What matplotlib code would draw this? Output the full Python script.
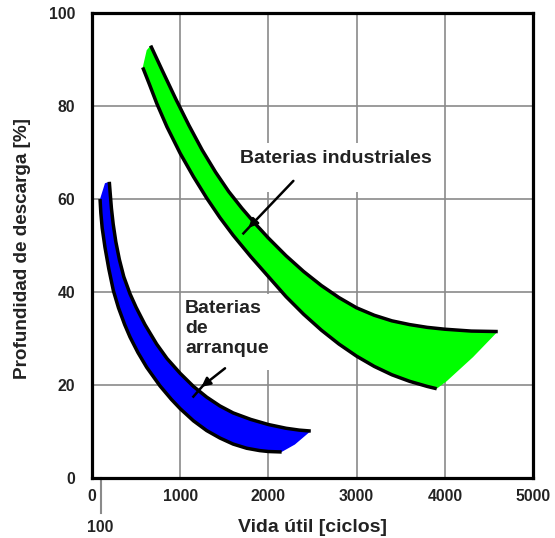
import matplotlib
matplotlib.use("Agg")
import matplotlib.pyplot as plt
from matplotlib.patches import Rectangle

plt.rcParams['font.family'] = ['Liberation Sans', 'DejaVu Sans']

# ---- data ----
ind_upper_x = [665, 800, 950, 1100, 1250, 1400, 1550, 1700, 1850, 2000, 2200, 2400, 2600, 2800,
               3000, 3200, 3400, 3600, 3800, 4000, 4300, 4600]
ind_upper_y = [93.0, 87.5, 81.5, 75.8, 70.5, 65.8, 61.6, 58.0, 54.7, 51.6, 47.8, 44.4, 41.4, 38.8,
               36.6, 35.0, 33.8, 33.0, 32.4, 32.0, 31.6, 31.5]
ind_lower_x = [575, 650, 733, 850, 1000, 1150, 1300, 1450, 1600, 1800, 2000, 2200, 2400, 2600,
               2800, 3000, 3200, 3400, 3600, 3800, 3908]
ind_lower_y = [88.3, 84.7, 80.6, 75.5, 69.8, 64.8, 60.2, 56.0, 52.2, 47.6, 43.3, 39.0, 35.2, 31.8,
               28.8, 26.2, 24.0, 22.2, 20.8, 19.7, 19.2]
ind_edge_x = [4020, 4320]
ind_edge_y = [20.8, 26.0]
ind_cap_x = [620]
ind_cap_y = [92.0]

arr_upper_x = [196, 205, 220, 240, 270, 310, 360, 431, 500, 600, 733, 850, 1000, 1150, 1300,
               1450, 1600, 1800, 2000, 2200, 2350, 2480]
arr_upper_y = [63.7, 61.5, 58.0, 54.6, 50.8, 47.0, 43.3, 39.6, 36.7, 33.0, 28.8, 25.7, 22.5, 19.7,
               17.4, 15.5, 14.0, 12.6, 11.5, 10.7, 10.3, 10.1]
arr_lower_x = [91, 100, 115, 147, 190, 242, 300, 370, 431, 520, 620, 771, 900, 1000, 1150, 1300,
               1450, 1600, 1754, 1900, 2000, 2150]
arr_lower_y = [60.0, 57.0, 53.8, 49.6, 45.0, 40.3, 36.6, 33.0, 30.3, 27.0, 23.8, 19.8, 16.9, 14.9,
               12.3, 10.2, 8.6, 7.3, 6.4, 5.9, 5.7, 5.6]
arr_edge_x = [2300]
arr_edge_y = [7.2]
arr_cap_x = [147]
arr_cap_y = [63.4]

x_ticks = [0, 1000, 2000, 3000, 4000, 5000]
x_ticklabels = ['0', '1000', '2000', '3000', '4000', '5000']
y_ticks = [0, 20, 40, 60, 80, 100]
y_ticklabels = ['0', '20', '40', '60', '80', '100']

label_ind = 'Baterias industriales'
label_arr = 'Baterias\nde\narranque'
x_label = 'Vida útil [ciclos]'
y_label = 'Profundidad de descarga [%]'
extra_tick = 100

# ---- figure ----
fig = plt.figure(figsize=(5.55, 5.38), dpi=100)
ax = fig.add_axes([0.1658, 0.1115, 0.7946, 0.8643])
ax.set_xlim(0, 5000)
ax.set_ylim(0, 100)

grid_col = '#8a8a8a'
for xv in x_ticks[1:-1]:
    ax.axvline(xv, color=grid_col, lw=1.2, zorder=1)
for yv in y_ticks[1:-1]:
    ax.axhline(yv, color=grid_col, lw=1.2, zorder=1)

# white label boxes that interrupt the grid
ax.add_patch(Rectangle((1620, 61.5), 2280, 10.6, facecolor='white', edgecolor='none', zorder=2))
ax.add_patch(Rectangle((1030, 23.3), 1120, 16.3, facecolor='white', edgecolor='none', zorder=2))

# industrial band
poly_x = ind_cap_x + ind_upper_x + ind_edge_x[::-1] + ind_lower_x[::-1]
poly_y = ind_cap_y + ind_upper_y + ind_edge_y[::-1] + ind_lower_y[::-1]
ax.fill(poly_x, poly_y, color='#00ff00', lw=0, zorder=3)
ax.plot(ind_upper_x, ind_upper_y, color='black', lw=2.5, solid_capstyle='butt',
        solid_joinstyle='round', zorder=4)
ax.plot(ind_lower_x, ind_lower_y, color='black', lw=2.5, solid_capstyle='butt',
        solid_joinstyle='round', zorder=4)

# starter band
poly_x = arr_cap_x + arr_upper_x + arr_edge_x + arr_lower_x[::-1]
poly_y = arr_cap_y + arr_upper_y + arr_edge_y + arr_lower_y[::-1]
ax.fill(poly_x, poly_y, color='#0000ff', lw=0, zorder=3)
ax.plot(arr_upper_x, arr_upper_y, color='black', lw=2.5, solid_capstyle='butt',
        solid_joinstyle='round', zorder=4)
ax.plot(arr_lower_x, arr_lower_y, color='black', lw=2.5, solid_capstyle='butt',
        solid_joinstyle='round', zorder=4)

# labels and arrows
ax.text(1678, 68.7, label_ind, fontsize=14, fontweight='bold', color='#222222',
        ha='left', va='center', zorder=5)
ax.text(1054, 38.2, label_arr, fontsize=14, fontweight='bold', color='#222222',
        ha='left', va='top', linespacing=1.22, zorder=5)

ax.annotate('', xy=(1775, 53.8), xytext=(2283, 63.9),
            arrowprops=dict(arrowstyle='-|>', color='black', lw=1.8, mutation_scale=13,
                            shrinkA=0, shrinkB=0), zorder=6)
ax.plot([1790, 1716], [54.1, 52.6], color='black', lw=1.8, zorder=6)
ax.annotate('', xy=(1240, 19.6), xytext=(1508, 23.6),
            arrowprops=dict(arrowstyle='-|>', color='black', lw=1.8, mutation_scale=13,
                            shrinkA=0, shrinkB=0), zorder=6)
ax.plot([1255, 1149], [19.8, 17.5], color='black', lw=1.8, zorder=6)

# axes styling
for s in ax.spines.values():
    s.set_linewidth(2.3)
    s.set_zorder(7)
ax.set_xticks(x_ticks)
ax.set_xticklabels(x_ticklabels)
ax.set_yticks(y_ticks)
ax.set_yticklabels(y_ticklabels)
ax.tick_params(length=0, labelsize=11.3, colors='#222222')
ax.tick_params(axis='y', pad=12)
ax.tick_params(axis='x', pad=8)
for t in ax.get_xticklabels() + ax.get_yticklabels():
    t.set_fontweight('bold')

# extra "100" tick below the axis
ax.plot([extra_tick, extra_tick], [0, -7.5], color=grid_col, lw=1.5, clip_on=False, zorder=1)
fig.text(100 / 555, 1 - 527 / 538, str(extra_tick), fontsize=11.3, fontweight='bold',
         color='#222222', ha='center', va='center')

fig.text(313 / 555, 1 - 527 / 538, x_label, fontsize=14, fontweight='bold',
         color='#222222', ha='center', va='center')
fig.text(23 / 555, 1 - 249 / 538, y_label, fontsize=13.6, fontweight='bold',
         color='#222222', ha='center', va='center', rotation=90)

fig.savefig('out.png', dpi=100, facecolor='white')
